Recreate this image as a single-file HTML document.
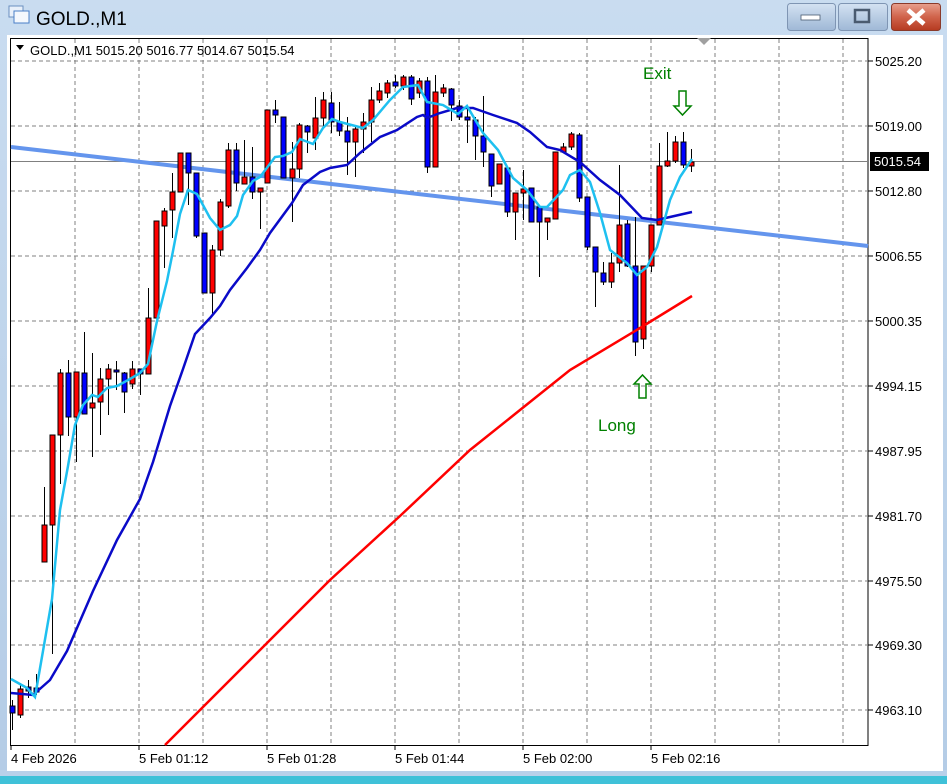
<!DOCTYPE html>
<html><head><meta charset="utf-8"><style>
html,body{margin:0;padding:0;width:947px;height:784px;overflow:hidden;background:#b9d1ea;font-family:"Liberation Sans",sans-serif}
</style></head><body>
<svg width="947" height="784" xmlns="http://www.w3.org/2000/svg" style="position:absolute;left:0;top:0">
<defs>
<linearGradient id="tb" x1="0" y1="0" x2="0" y2="1"><stop offset="0" stop-color="#c9dcf0"/><stop offset="1" stop-color="#b4cce6"/></linearGradient>
<linearGradient id="bt" x1="0" y1="0" x2="0" y2="1"><stop offset="0" stop-color="#d4e2f2"/><stop offset="0.5" stop-color="#b9cde4"/><stop offset="1" stop-color="#9fb8d6"/></linearGradient>
<linearGradient id="cl" x1="0" y1="0" x2="0" y2="1"><stop offset="0" stop-color="#e8a08e"/><stop offset="0.5" stop-color="#d0634b"/><stop offset="1" stop-color="#b53a20"/></linearGradient>
</defs>
<rect x="0" y="0" width="947" height="784" fill="url(#tb)"/>
<rect x="0" y="776" width="947" height="8" fill="#3fc1d8"/>
<rect x="0" y="770" width="947" height="6" fill="#b9d1ea"/>
<rect x="9" y="6" width="14" height="11" fill="#e8f0fa" stroke="#6a8fc0"/>
<rect x="14" y="11" width="15" height="12" fill="#f4f8fd" stroke="#4a7fc8"/>
<text x="36" y="25" font-size="19" fill="#000">GOLD.,M1</text>
<rect x="787.5" y="3.5" width="48" height="27" rx="3" fill="url(#bt)" stroke="#7f95b3"/>
<rect x="801" y="15" width="19" height="5" fill="#fff" stroke="#4a5b70" stroke-width="0.8"/>
<rect x="838.5" y="3.5" width="49" height="27" rx="3" fill="url(#bt)" stroke="#7f95b3"/>
<rect x="855" y="10" width="14" height="12" fill="none" stroke="#4a5b70" stroke-width="2.5"/>
<rect x="891.5" y="3.5" width="49" height="27" rx="3" fill="url(#cl)" stroke="#8a3a2a"/>
<path d="M908 10 L924 24 M924 10 L908 24" stroke="#fff" stroke-width="4.5"/>
<rect x="7" y="35" width="936" height="736" fill="#fff"/>
<rect x="10.5" y="38.5" width="857.5" height="707" fill="#fff" stroke="#000"/>
<g stroke="#808080" stroke-dasharray="4,3" stroke-width="1" fill="none">
<path d="M75 39V745M139 39V745M203 39V745M267 39V745M331 39V745M395 39V745M459 39V745M523 39V745M587 39V745M651 39V745M715 39V745M779 39V745M843 39V745"/>
<path d="M11 61H868M11 126H868M11 191H868M11 256H868M11 321H868M11 386H868M11 451H868M11 516H868M11 581H868M11 645H868M11 710H868"/>
</g>
<line x1="11" y1="161.5" x2="868" y2="161.5" stroke="#808080"/>
<g font-size="13" fill="#000">
<g stroke="#000"><path d="M868 61h5M868 126h5M868 191h5M868 256h5M868 321h5M868 386h5M868 451h5M868 516h5M868 581h5M868 645h5M868 710h5"/></g>
<text x="875" y="66">5025.20</text><text x="875" y="131">5019.00</text><text x="875" y="196">5012.80</text><text x="875" y="261">5006.55</text><text x="875" y="326">5000.35</text><text x="875" y="391">4994.15</text><text x="875" y="456">4987.95</text><text x="875" y="521">4981.70</text><text x="875" y="586">4975.50</text><text x="875" y="650">4969.30</text><text x="875" y="715">4963.10</text>
<rect x="870" y="152" width="59" height="19" fill="#000"/>
<text x="874" y="166" fill="#fff">5015.54</text>
<g stroke="#000"><path d="M11 745v5M139 745v5M267 745v5M395 745v5M523 745v5M651 745v5"/></g>
<text x="11" y="763">4 Feb 2026</text><text x="139" y="763">5 Feb 01:12</text><text x="267" y="763">5 Feb 01:28</text><text x="395" y="763">5 Feb 01:44</text><text x="523" y="763">5 Feb 02:00</text><text x="651" y="763">5 Feb 02:16</text>
<path d="M16 45 L24 45 L20 50 Z" fill="#000"/>
<text x="30" y="55">GOLD.,M1  5015.20 5016.77 5014.67 5015.54</text>
<path d="M697 38 L711 38 L704 45 Z" fill="#a0a0a0"/>
</g>
<line x1="11" y1="147" x2="868" y2="246" stroke="#6495ed" stroke-width="4"/>
<g id="c" stroke="#000" stroke-width="1"></g>
<polyline fill="none" stroke="#ff0000" stroke-width="2.5" points="165,745 250,660 330,580 400,516 470,450 520,410 570,370 640,328 692,296"/>
<polyline fill="none" stroke="#0a0ac8" stroke-width="2.5" points="11,693 33,695 50,680 67,651 93,591 117,540 140,499 153,462 170,406 183,369 195,334 210,318 220,306 230,290 247,268 260,250 270,233 292,203 303,185 320,172 330,168 347,165 360,153 380,137 397,130 417,117 423,115 427,118 440,113 457,108 473,108 493,115 517,123 530,132 547,147 560,150 580,162 600,180 620,195 642,218 657,220 670,217 692,212"/>
<polyline fill="none" stroke="#1ec0f0" stroke-width="2.5" points="11,679 27,688 35,697 43,651 52,599 60,510 68,466 75,425 83,405 92,395 98,397 107,388 117,386 130,379 140,373 148,364 157,321 167,281 173,251 180,214 188,190 197,194 210,218 220,230 230,225 237,216 243,195 253,181 260,177 275,157 283,156 292,152 300,139 313,144 323,128 332,119 340,122 363,128 373,120 390,100 403,87 418,85 427,102 443,105 458,114 467,106 483,133 498,150 513,178 527,190 540,207 547,207 563,190 570,175 580,170 590,182 600,213 610,250 627,263 637,275 647,267 657,247 670,200 680,177 692,159"/>
<text x="643" y="79" font-size="17" fill="#008000">Exit</text>
<path d="M679 91 h7 v15 h5 l-8.5 9 l-8.5 -9 h5 z" fill="none" stroke="#008000" stroke-width="1.5"/>
<text x="598" y="431" font-size="17" fill="#008000">Long</text>
<path d="M639 398 h7 v-14 h5 l-8.5 -9 l-8.5 9 h5 z" fill="none" stroke="#008000" stroke-width="1.5"/>
</svg>
<script>
var d=[[12,700,730,706,713,'b'],[20,683,718,689,715,'r'],[28,680,698,687,691,'b'],[36,674,695,688,692,'b'],
[44,487,562,525,562,'r'],[52,435,654,435,525,'r'],[60,369,484,373,435,'r'],[68,360,436,373,417,'b'],[76,372,462,372,417,'r'],[84,332,414,373,414,'b'],[92,353,457,403,408,'r'],[100,368,435,379,402,'r'],[108,364,415,369,379,'r'],[116,361,390,370,372,'b'],[124,372,413,373,392,'b'],[132,361,389,369,384,'r'],[140,369,395,369,374,'b'],[148,288,374,318,374,'r'],[156,221,318,221,318,'r'],[164,208,268,211,226,'r'],[172,173,238,192,210,'r'],[180,153,192,153,192,'r'],[188,153,205,153,173,'b'],[196,173,238,173,236,'b'],[204,233,293,233,293,'b'],[212,245,314,250,293,'r'],[220,199,256,202,250,'r'],[228,143,208,150,206,'r'],[236,143,191,150,183,'b'],[244,140,184,177,184,'r'],[252,147,199,177,192,'b'],[260,188,229,188,192,'r'],
[267,110,183,110,183,'r'],[275,100,123,110,115,'b'],[283,117,178,117,178,'b'],[292,142,222,169,178,'r'],[299,123,178,125,169,'r'],[307,125,153,126,132,'b'],[315,97,150,118,138,'r'],[323,92,128,100,118,'r'],[331,92,133,103,122,'b'],[339,102,136,122,131,'b'],[347,117,175,131,142,'b'],[355,125,177,129,142,'r'],[363,113,153,122,129,'r'],[371,87,142,100,122,'r'],[379,83,103,91,100,'r'],[387,80,98,83,93,'r'],[395,75,88,82,86,'b'],[403,75,90,77,86,'r'],[411,75,105,77,99,'b'],[419,78,98,81,93,'r'],[427,77,173,81,167,'b'],[435,75,167,92,167,'r'],[443,84,97,88,93,'r'],[451,88,121,89,105,'b'],[459,100,120,106,117,'b'],[467,107,143,117,120,'b'],[475,117,160,120,136,'b'],[483,96,167,136,152,'b'],[491,154,197,154,186,'b'],[499,164,184,164,184,'r'],[507,168,217,168,212,'b'],[515,193,240,193,212,'r'],[523,170,220,189,193,'r'],[531,188,222,188,222,'b'],[539,207,277,207,222,'b'],[547,218,240,218,222,'r'],[555,152,219,152,219,'r'],[563,143,152,147,152,'r'],[571,132,150,134,147,'r'],
[579,133,202,135,198,'b'],[587,197,250,197,247,'b'],[595,247,307,247,272,'b'],[603,262,285,273,282,'b'],[611,253,288,263,282,'r'],[619,165,272,225,263,'r'],[627,220,267,224,266,'b'],[635,217,356,266,342,'b'],[643,266,349,266,339,'r'],[651,225,272,225,266,'r'],[659,143,225,166,225,'r'],[667,132,167,161,166,'r'],[675,136,163,142,161,'r'],[683,132,168,142,165,'b'],[691,149,172,162,166,'r']];
var g=document.getElementById('c'),s='';
d.forEach(function(a){var x=a[0];s+='<line x1="'+(x+0.5)+'" y1="'+a[1]+'" x2="'+(x+0.5)+'" y2="'+a[2]+'"/>';
var h=Math.max(a[4]-a[3],2);s+='<rect x="'+(x-2)+'" y="'+a[3]+'" width="5" height="'+h+'" fill="'+(a[5]=='r'?'#ff0000':'#0000ff')+'"/>';});
g.innerHTML=s;
</script>
</body></html>
